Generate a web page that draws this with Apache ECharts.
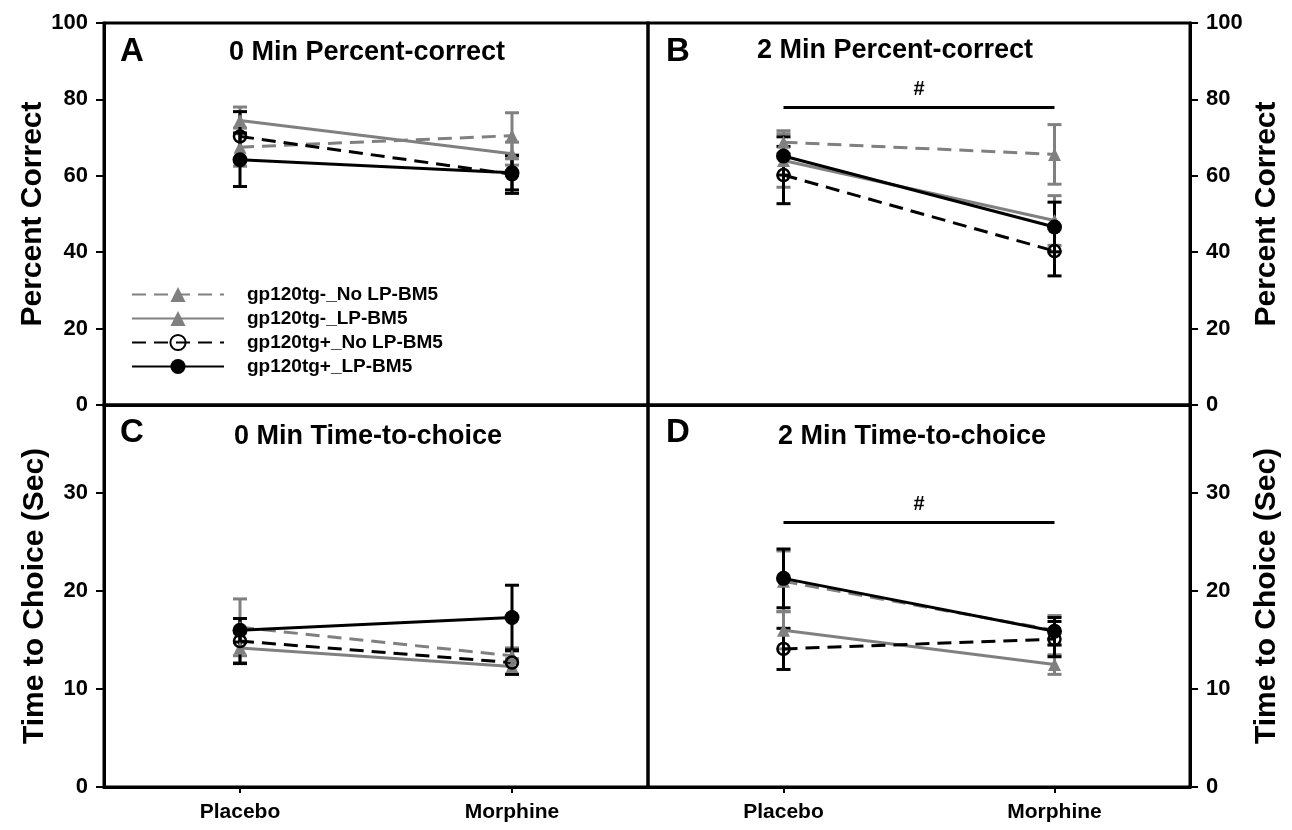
<!DOCTYPE html>
<html>
<head>
<meta charset="utf-8">
<script src="https://cdn.jsdelivr.net/npm/echarts@6/dist/echarts.min.js"></script>
<style>
html,body{margin:0;padding:0;background:#fff;}
#chart{width:1292px;height:830px;}
</style>
</head>
<body>
<div id="chart"></div>
<script>
// ---- data ----
const categories = ['Placebo', 'Morphine'];
const groupNames = ['gp120tg-_No LP-BM5', 'gp120tg-_LP-BM5', 'gp120tg+_No LP-BM5', 'gp120tg+_LP-BM5'];
const panelTitles = ['0 Min Percent-correct', '2 Min Percent-correct', '0 Min Time-to-choice', '2 Min Time-to-choice'];
const panelLetters = ['A', 'B', 'C', 'D'];
// means per group: [Placebo, Morphine]
const panelA_means = [[67.5, 70.5], [74.5, 65.8], [70.3, 60.4], [64.2, 60.8]];
const panelA_errs  = [[5.0, 6.0], [3.5, 3.0], [6.5, 5.0], [7.0, 4.5]];
const panelB_means = [[68.8, 65.6], [64.0, 48.3], [60.2, 40.3], [65.2, 46.6]];
const panelB_errs  = [[3.0, 7.8], [7.0, 6.5], [7.5, 6.5], [5.0, 6.5]];
const panelC_means = [[16.3, 13.4], [14.2, 12.3], [14.9, 12.7], [16.0, 17.3]];
const panelC_errs  = [[2.9, 0.8], [1.5, 0.8], [2.3, 1.2], [1.2, 3.3]];
const panelD_means = [[21.0, 16.0], [16.0, 12.5], [14.1, 15.1], [21.3, 15.9]];
const panelD_errs  = [[3.1, 1.5], [1.9, 1.0], [2.1, 1.8], [3.0, 1.4]];
const sigLevelB = 78;
const sigLevelD = 27;
const pcTicks = { min: 0, max: 100, interval: 20 };
const ttcTicks = { min: 0, max: 39, interval: 10 };

// ---- styles ----
const FONT = "'Liberation Sans', Arial, sans-serif";
const GRAY = '#808080';
const BLACK = '#000000';
const groupStyles = [
  { color: GRAY,  dash: [14, 8], symbol: 'triangle', size: 13, fill: GRAY },
  { color: GRAY,  dash: 'solid', symbol: 'triangle', size: 13, fill: GRAY },
  { color: BLACK, dash: [14, 8], symbol: 'circle',   size: 12, fill: 'rgba(0,0,0,0)' },
  { color: BLACK, dash: 'solid', symbol: 'circle',   size: 15, fill: BLACK }
];

const allMeans = [panelA_means, panelB_means, panelC_means, panelD_means];
const allErrs = [panelA_errs, panelB_errs, panelC_errs, panelD_errs];

const grids = [
  { left: 104, top: 23, width: 544, height: 382 },
  { left: 648, top: 23, width: 542, height: 382 },
  { left: 104, top: 405, width: 544, height: 382 },
  { left: 648, top: 405, width: 542, height: 382 }
].map(g => Object.assign(g, { show: true, borderColor: BLACK, borderWidth: 3, backgroundColor: 'transparent' }));

const xAxes = [0, 1, 2, 3].map(i => ({
  type: 'category',
  gridIndex: i,
  data: categories,
  boundaryGap: true,
  axisLine: { lineStyle: { color: BLACK, width: 3 } },
  axisTick: { show: i >= 2, alignWithLabel: true, length: 6, lineStyle: { color: BLACK, width: 2 } },
  axisLabel: { show: i >= 2, color: BLACK, fontFamily: FONT, fontWeight: 'bold', fontSize: 21, margin: 15 },
  splitLine: { show: false }
}));

const yAxes = [0, 1, 2, 3].map(i => {
  const t = i < 2 ? pcTicks : ttcTicks;
  return {
    type: 'value',
    gridIndex: i,
    position: (i % 2 === 0) ? 'left' : 'right',
    min: t.min, max: t.max, interval: t.interval,
    name: i < 2 ? 'Percent Correct' : 'Time to Choice (Sec)',
    nameLocation: 'middle',
    nameGap: (i % 2 === 0) ? 54 : 62,
    nameTextStyle: { color: BLACK, fontFamily: FONT, fontWeight: 'bold', fontSize: 30 },
    axisLine: { show: true, lineStyle: { color: BLACK, width: 3 } },
    axisTick: { show: true, length: 8, lineStyle: { color: BLACK, width: 2 } },
    axisLabel: { color: BLACK, fontFamily: FONT, fontWeight: 'bold', fontSize: 22, margin: 16,
                 showMaxLabel: i < 2 },
    splitLine: { show: false }
  };
});

const series = [];
for (let p = 0; p < 4; p++) {
  for (let g = 0; g < 4; g++) {
    const st = groupStyles[g];
    const errData = categories.map((c, k) => [k, allMeans[p][g][k], allErrs[p][g][k]]);
    series.push({
      type: 'custom',
      xAxisIndex: p, yAxisIndex: p,
      z: 2,
      silent: true,
      clip: false,
      data: errData,
      encode: { x: 0, y: 1 },
      renderItem: (function (color) {
        return function (params, api) {
          const x = api.value(0), m = api.value(1), e = api.value(2);
          const top = api.coord([x, m + e]);
          const bot = api.coord([x, m - e]);
          const w = 7;
          const s = { stroke: color, lineWidth: 3 };
          return {
            type: 'group',
            children: [
              { type: 'line', shape: { x1: top[0], y1: top[1], x2: bot[0], y2: bot[1] }, style: s },
              { type: 'line', shape: { x1: top[0] - w, y1: top[1], x2: top[0] + w, y2: top[1] }, style: s },
              { type: 'line', shape: { x1: bot[0] - w, y1: bot[1], x2: bot[0] + w, y2: bot[1] }, style: s }
            ]
          };
        };
      })(st.color)
    });
  }
  for (let g = 0; g < 4; g++) {
    const st = groupStyles[g];
    series.push({
      type: 'line',
      name: groupNames[g],
      xAxisIndex: p, yAxisIndex: p,
      z: 3,
      data: allMeans[p][g],
      symbol: st.symbol,
      symbolSize: st.size,
      showAllSymbol: true,
      lineStyle: { color: st.color, width: 3, type: st.dash },
      itemStyle: { color: st.fill, borderColor: st.color, borderWidth: g === 2 ? 2.5 : 0 },
      emphasis: { disabled: true },
      animation: false
    });
  }
}

// significance bars
[[1, sigLevelB], [3, sigLevelD]].forEach(([p, lvl]) => {
  series.push({
    type: 'line',
    name: 'sig' + p,
    xAxisIndex: p, yAxisIndex: p,
    data: [],
    markLine: {
      silent: true,
      symbol: ['none', 'none'],
      lineStyle: { color: BLACK, width: 3, type: 'solid' },
      label: { show: true, position: 'middle', formatter: '#', color: BLACK, fontFamily: FONT,
               fontWeight: 'bold', fontSize: 20, distance: 8 },
      data: [[{ coord: [categories[0], lvl] }, { coord: [categories[1], lvl] }]],
      animation: false
    }
  });
});

const titles = [];
const titlePos = [[362, 34], [890, 32], [363, 418], [907, 418]];
const letterPos = [[115, 30], [661, 30], [115, 411], [661, 411]];
for (let p = 0; p < 4; p++) {
  titles.push({ text: panelTitles[p], left: titlePos[p][0], top: titlePos[p][1], textAlign: 'center',
    textStyle: { color: BLACK, fontFamily: FONT, fontWeight: 'bold', fontSize: 27 } });
  titles.push({ text: panelLetters[p], left: letterPos[p][0], top: letterPos[p][1],
    textStyle: { color: BLACK, fontFamily: FONT, fontWeight: 'bold', fontSize: 33 } });
}

const chart = echarts.init(document.getElementById('chart'), null, { renderer: 'canvas' });
chart.setOption({
  animation: false,
  backgroundColor: '#ffffff',
  title: titles,
  grid: grids,
  xAxis: xAxes,
  yAxis: yAxes,
  legend: {
    data: groupNames,
    orient: 'vertical',
    left: 126,
    top: 280,
    itemWidth: 92,
    itemHeight: 19,
    itemGap: 5,
    selectedMode: false,
    textStyle: { color: BLACK, fontFamily: FONT, fontWeight: 'bold', fontSize: 19, padding: [0, 0, 0, 18] }
  },
  series: series
});
</script>
</body>
</html>
